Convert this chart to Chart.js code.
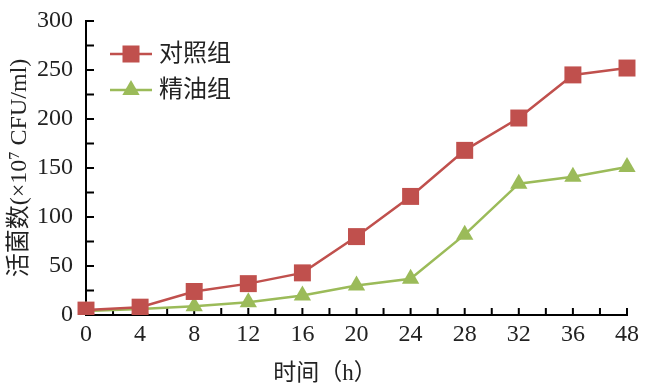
<!DOCTYPE html>
<html>
<head>
<meta charset="utf-8">
<script src="https://cdn.jsdelivr.net/npm/chart.js"></script>
<style>
  body { margin: 0; background: #fff; }
  #wrap { width: 646px; height: 390px; position: relative; }
</style>
</head>
<body>
<div id="wrap"><canvas id="myChart"></canvas></div>
<script>
// 数据
const hours = ['0', '4', '8', '12', '16', '20', '24', '28', '32', '36', '48'];
const control_vals = [5, 8, 24, 32, 43, 80, 121, 168, 201, 245, 252];
const oil_vals = [4, 6, 9, 13, 20, 30, 37, 82, 134, 141, 151];
const y_ticks = [0, 50, 100, 150, 200, 250, 300];
const series_names = ['对照组', '精油组'];

const RED = '#C0504D';
const GREEN = '#9BBB59';
const TEXT = '#222';
const NUM_FONT = "'Liberation Serif', 'Times New Roman', 'Noto Sans CJK SC', serif";

// 向内的刻度线 + 图例 + x 轴标题
const extras = {
  id: 'extras',
  beforeDatasetsDraw(chart) {
    const ctx = chart.ctx;
    const x = chart.scales.x, y = chart.scales.y;
    const bottom = chart.chartArea.bottom, left = chart.chartArea.left;
    ctx.save();
    ctx.strokeStyle = '#000';
    ctx.lineWidth = 2;
    ctx.beginPath();
    for (let i = 0; i < hours.length; i++) {
      const px = x.getPixelForValue(i);
      if (i > 0) { ctx.moveTo(px, bottom); ctx.lineTo(px, bottom - 7); }
      if (i < hours.length - 1) {
        const mx = x.getPixelForValue(i + 0.5);
        ctx.moveTo(mx, bottom); ctx.lineTo(mx, bottom - 7);
      }
    }
    for (let v = 25; v <= 300; v += 25) {
      const py = y.getPixelForValue(v);
      ctx.moveTo(left, py); ctx.lineTo(left + 8, py);
    }
    ctx.stroke();
    ctx.restore();
  },
  afterDraw(chart) {
    const ctx = chart.ctx;
    ctx.save();
    // 图例
    const items = [
      { name: series_names[0], color: RED, y: 54, shape: 'rect' },
      { name: series_names[1], color: GREEN, y: 90, shape: 'tri' }
    ];
    items.forEach(function(it) {
      ctx.strokeStyle = it.color;
      ctx.fillStyle = it.color;
      ctx.lineWidth = 2.5;
      ctx.beginPath();
      ctx.moveTo(110, it.y); ctx.lineTo(152, it.y);
      ctx.stroke();
      if (it.shape === 'rect') {
        ctx.fillRect(131 - 8.5, it.y - 8.5, 17, 17);
      } else {
        const r = 10;
        ctx.beginPath();
        ctx.moveTo(131, it.y - r);
        ctx.lineTo(131 + r * 0.866, it.y + r * 0.5);
        ctx.lineTo(131 - r * 0.866, it.y + r * 0.5);
        ctx.closePath();
        ctx.fill();
      }
      ctx.fillStyle = TEXT;
      ctx.font = "24px " + NUM_FONT;
      ctx.textBaseline = 'middle';
      ctx.textAlign = 'left';
      ctx.fillText(it.name, 159, it.y + 1);
    });
    // x 轴标题
    ctx.fillStyle = TEXT;
    ctx.font = "23px " + NUM_FONT;
    ctx.textAlign = 'center';
    ctx.textBaseline = 'middle';
    ctx.fillText('时间（h）', 325, 374);
    ctx.restore();
  }
};

const chart_data = {
  labels: hours,
  datasets: [{
    label: series_names[0],
    data: control_vals,
    borderColor: RED,
    backgroundColor: RED,
    borderWidth: 2.5,
    pointStyle: 'rect',
    pointRadius: 12,
    pointHoverRadius: 12,
    pointBorderWidth: 0,
    tension: 0
  }, {
    label: series_names[1],
    data: oil_vals,
    borderColor: GREEN,
    backgroundColor: GREEN,
    borderWidth: 2.5,
    pointStyle: 'triangle',
    pointRadius: 10,
    pointHoverRadius: 10,
    pointBorderWidth: 0,
    tension: 0
  }]
};

const chart_config = {
  type: 'line',
  data: chart_data,
  options: {
    responsive: true,
    maintainAspectRatio: false,
    animation: false,
    layout: { padding: { top: 21, right: 19, left: 0, bottom: 0 } },
    plugins: {
      legend: { display: false },
      tooltip: { enabled: false }
    },
    scales: {
      x: {
        type: 'category',
        offset: false,
        grid: { display: false, drawTicks: false },
        border: { display: true, color: '#000', width: 2 },
        ticks: {
          color: TEXT,
          font: { family: NUM_FONT, size: 24 },
          padding: 5,
          maxRotation: 0,
          autoSkip: false
        },
        afterFit: function(s) {
          s.height = 75;
          s.paddingLeft = 0;
          s.paddingRight = 0;
        }
      },
      y: {
        min: 0,
        max: 300,
        grid: { display: false, drawTicks: false },
        border: { display: true, color: '#000', width: 2 },
        ticks: {
          stepSize: 50,
          color: TEXT,
          font: { family: NUM_FONT, size: 24 },
          padding: 13,
          callback: function(v) { return y_ticks.includes(v) ? String(v) : ''; }
        },
        title: {
          display: true,
          text: '活菌数(×10⁷ CFU/ml)',
          color: TEXT,
          font: { family: NUM_FONT, size: 24 },
          padding: { top: 5, bottom: 0 }
        },
        afterFit: function(s) {
          s.width = 86;
          s.paddingTop = 0;
          s.paddingBottom = 0;
        }
      }
    }
  },
  plugins: [extras]
};

const myChart = new Chart(document.getElementById('myChart'), chart_config);
</script>
</body>
</html>
